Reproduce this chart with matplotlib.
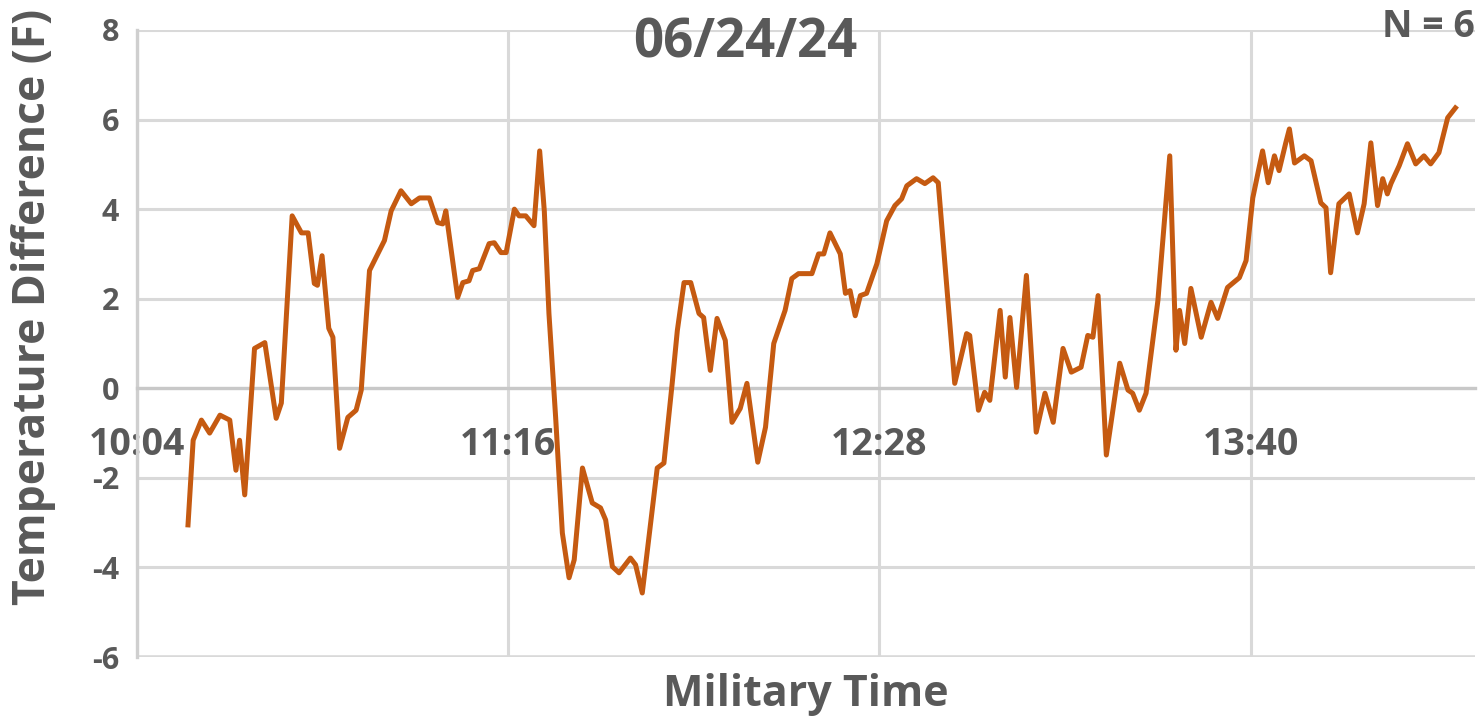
import matplotlib.pyplot as plt

# minutes elapsed since 10:04, and temperature difference (F)
minutes = [9.9, 10.9, 12.5, 14.1, 16.1, 18.0, 19.2, 19.9, 20.9, 22.8,
           24.8, 27.0, 28.0, 30.1, 31.9, 33.2, 34.4, 35.0, 35.9, 37.2,
           38.0, 39.3, 40.9, 42.5, 43.5, 45.1, 46.7, 48.0, 49.3, 51.2,
           53.2, 54.8, 56.7, 58.3, 59.3, 59.9, 62.2, 63.2, 64.4, 65.1,
           66.4, 68.3, 69.3, 70.6, 71.6, 73.2, 74.1, 75.4, 77.0, 78.1,
           79.0, 79.9, 81.2, 82.5, 83.8, 84.8, 86.4, 88.3, 89.9, 90.9,
           92.2, 93.5, 95.7, 96.7, 98.0, 99.3, 100.9, 102.2, 103.8, 104.8,
           106.1, 107.4, 109.0, 109.9, 111.2, 112.5, 114.1, 115.4, 117.0, 118.3,
           120.4, 121.9, 123.5, 125.7, 127.0, 128.3, 130.9, 132.2, 133.2, 134.4,
           136.4, 137.4, 138.3, 139.3, 140.3, 141.5, 143.5, 145.4, 147.0, 148.3,
           149.3, 151.2, 152.8, 154.4, 155.4, 157.0, 158.6, 160.9, 161.5, 163.2,
           164.4, 165.4, 167.4, 168.4, 169.3, 170.6, 172.5, 174.4, 176.1, 177.7,
           179.6, 181.2, 183.1, 184.4, 185.4, 186.4, 188.0, 190.6, 192.2, 193.1,
           194.4, 195.7, 198.0, 200.3, 201.5, 202.2, 203.2, 204.4, 206.4, 208.3,
           209.6, 211.5, 213.8, 215.1, 216.4, 218.3, 219.4, 220.6, 221.5, 222.8,
           223.5, 224.5, 226.4, 227.7, 229.6, 230.6, 231.5, 233.1, 235.1, 236.7,
           238.0, 239.3, 240.6, 241.6, 242.5, 243.2, 244.8, 246.4, 248.0, 249.6,
           250.9, 252.5, 254.2, 255.7]
temp_diff = [-3.05, -1.16, -0.71, -1.0, -0.6, -0.71, -1.83, -1.16, -2.38, 0.89,
             1.02, -0.67, -0.33, 3.85, 3.47, 3.47, 2.34, 2.3, 2.96, 1.34,
             1.14, -1.34, -0.65, -0.49, -0.04, 2.63, 3.0, 3.3, 3.96, 4.41,
             4.12, 4.25, 4.25, 3.7, 3.67, 3.96, 2.03, 2.36, 2.4, 2.63,
             2.67, 3.23, 3.25, 3.03, 3.03, 4.0, 3.85, 3.85, 3.63, 5.3,
             3.96, 1.67, -0.65, -3.23, -4.23, -3.83, -1.78, -2.56, -2.67, -2.94,
             -3.98, -4.12, -3.79, -3.94, -4.57, -3.32, -1.78, -1.67, 0.11, 1.29,
             2.36, 2.36, 1.67, 1.58, 0.4, 1.56, 1.07, -0.76, -0.45, 0.11,
             -1.65, -0.87, 1.0, 1.74, 2.45, 2.56, 2.56, 3.0, 3.0, 3.47,
             3.0, 2.12, 2.18, 1.62, 2.07, 2.12, 2.78, 3.74, 4.08, 4.23,
             4.52, 4.68, 4.57, 4.7, 4.59, 2.34, 0.11, 1.22, 1.18, -0.49,
             -0.09, -0.27, 1.74, 0.25, 1.58, 0.02, 2.52, -0.98, -0.11, -0.76,
             0.89, 0.36, 0.47, 1.18, 1.14, 2.07, -1.49, 0.56, -0.04, -0.11,
             -0.49, -0.11, 1.96, 5.19, 0.85, 1.74, 1.0, 2.23, 1.14, 1.92,
             1.56, 2.25, 2.47, 2.85, 4.25, 5.3, 4.59, 5.19, 4.86, 5.48,
             5.79, 5.03, 5.19, 5.08, 4.14, 4.03, 2.58, 4.12, 4.34, 3.47,
             4.12, 5.48, 4.08, 4.68, 4.34, 4.57, 4.97, 5.46, 5.01, 5.19,
             5.01, 5.26, 6.04, 6.26]

tick_minutes = [0, 72, 144, 216]
tick_labels = ['10:04', '11:16', '12:28', '13:40']
y_ticks = [-6, -4, -2, 0, 2, 4, 6, 8]

plt.rcParams['font.family'] = ['Open Sans', 'DejaVu Sans']
plt.rcParams['axes.unicode_minus'] = False
text_color = '#595959'
grid_color = '#d9d9d9'

fig = plt.figure(figsize=(14.79, 7.19), dpi=100)
ax = fig.add_axes([0.0926, 0.0862, 0.9047, 0.8721])

ax.plot(minutes, temp_diff, color='#c55a11', linewidth=3.6,
        solid_joinstyle='round', zorder=3)

ax.set_xlim(0, 259.5)
ax.set_ylim(-6, 8)
ax.set_yticks(y_ticks)
ax.set_xticks(tick_minutes)
ax.set_xticklabels(tick_labels)

ax.grid(True, color=grid_color, linewidth=2.2)
ax.set_axisbelow(True)

# x axis crosses at zero, labels hang below it
ax.spines['bottom'].set_position(('data', 0))
ax.spines['bottom'].set_color('#c8c8c8')
ax.spines['bottom'].set_linewidth(2.4)
ax.spines['left'].set_color('#cfcfcf')
ax.spines['left'].set_linewidth(2.4)
ax.spines['top'].set_visible(False)
ax.spines['right'].set_visible(False)
ax.axhline(-6, color=grid_color, linewidth=2.6, zorder=1)

ax.tick_params(axis='x', length=0, pad=27, labelsize=27, labelcolor=text_color)
ax.tick_params(axis='y', length=0, pad=13, labelsize=22, labelcolor=text_color)
for lab in ax.get_xticklabels() + ax.get_yticklabels():
    lab.set_fontweight('bold')

ax.set_ylabel('Temperature Difference (F)', fontsize=32, fontweight='bold',
              color=text_color)
ax.set_xlabel('Military Time', fontsize=31, fontweight='bold', color=text_color)
ax.xaxis.set_label_coords(0.5, -0.026)
ax.yaxis.set_label_coords(-0.077, 0.558)
ax.xaxis.label.set_va('top')
ax.yaxis.label.set_va('center')

fig.text(0.504, 0.94, '06/24/24', ha='center', va='center', fontsize=38,
         fontweight='bold', color=text_color)
fig.text(0.997, 0.962, 'N = 6', ha='right', va='center', fontsize=27,
         fontweight='bold', color=text_color)

fig.savefig('out.png', dpi=100)
